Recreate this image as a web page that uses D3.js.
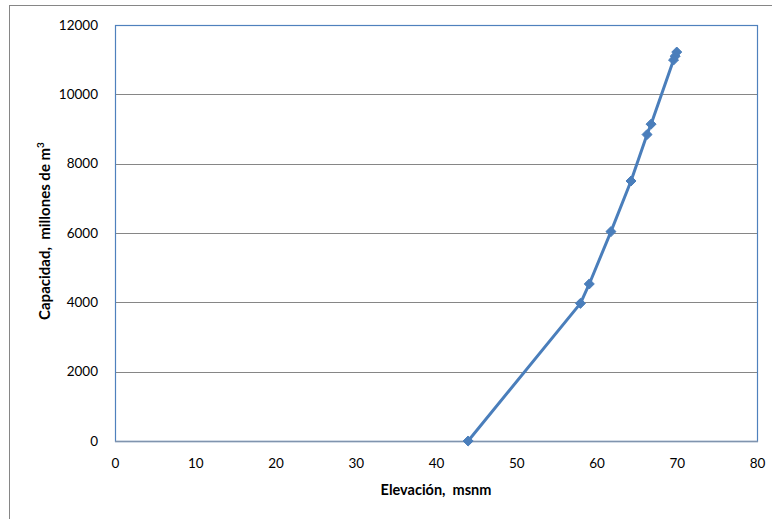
<!DOCTYPE html>
<html><head><meta charset="utf-8">
<script src="https://cdn.jsdelivr.net/npm/d3@7"></script>
<style>body{margin:0;background:#fff;} svg{display:block;} .t{white-space:pre;}</style>
</head><body>
<svg id="c" width="772" height="519"></svg>
<script>
const elevation = [44, 58, 59.1, 61.8, 64.3, 66.3, 66.8, 69.6, 69.8, 70];
const capacity  = [0, 3970, 4530, 6040, 7500, 8840, 9140, 10990, 11100, 11220];
const xTicks = [0, 10, 20, 30, 40, 50, 60, 70, 80];
const yTicks = [0, 2000, 4000, 6000, 8000, 10000, 12000];
const xTitle = "Elevación,  msnm";
const yTitle = "Capacidad,  millones de m";

const svg = d3.select("#c");
const font = "Lato, 'Open Sans', sans-serif";
const m = {l:115, r:757, t:25, b:441};
const x = d3.scaleLinear().domain([0,80]).range([m.l, m.r]);
const y = d3.scaleLinear().domain([0,12000]).range([m.b, m.t]);

// outer border
svg.append("rect").attr("x",9.5).attr("y",5.5).attr("width",800).attr("height",520)
  .attr("fill","none").attr("stroke","#868686").attr("stroke-width",1);

// gridlines
svg.append("g").selectAll("line").data(yTicks.filter(d=>d>0 && d<12000)).join("line")
  .attr("x1",m.l).attr("x2",m.r).attr("y1",d=>Math.round(y(d))+0.5).attr("y2",d=>Math.round(y(d))+0.5)
  .attr("stroke","#868686").attr("stroke-width",1);

// plot border
svg.append("rect").attr("x",m.l+0.5).attr("y",m.t+0.5).attr("width",m.r-m.l).attr("height",m.b-m.t)
  .attr("fill","none").attr("stroke","#4F81BD").attr("stroke-width",1.2);
// bottom axis line
svg.append("line").attr("x1",m.l).attr("x2",m.r+1).attr("y1",m.b+0.5).attr("y2",m.b+0.5)
  .attr("stroke","#8094AE").attr("stroke-width",1.5);

// axes labels via d3 axes
const ax = svg.append("g").attr("transform",`translate(0,${m.b})`)
  .call(d3.axisBottom(x).tickValues(xTicks).tickSize(0).tickPadding(17).tickFormat(d3.format("d")));
ax.select(".domain").remove();
ax.selectAll("text").attr("font-family",font).attr("font-size","13.5px").attr("fill","#000");
const ay = svg.append("g").attr("transform",`translate(${m.l},0)`)
  .call(d3.axisLeft(y).tickValues(yTicks).tickSize(0).tickPadding(17).tickFormat(d3.format("d")));
ay.select(".domain").remove();
ay.selectAll("text").attr("font-family",font).attr("font-size","13.5px").attr("fill","#000");

// titles
svg.append("text").attr("class","t").attr("x",436).attr("y",495).attr("text-anchor","middle")
  .attr("font-family",font).attr("font-size","14.5px").attr("font-weight","bold").text(xTitle);
const yt = svg.append("text").attr("class","t").attr("transform","translate(50,231) rotate(-90)").attr("text-anchor","middle")
  .attr("font-family",font).attr("font-size","15px").attr("font-weight","bold");
yt.append("tspan").text(yTitle);
yt.append("tspan").attr("dy","-6").attr("font-size","10px").text("3");

// line
const pts = elevation.map((e,i)=>[e,capacity[i]]);
svg.append("path").datum(pts)
  .attr("d", d3.line().x(d=>x(d[0])).y(d=>y(d[1])))
  .attr("fill","none").attr("stroke","#4A7EBB").attr("stroke-width",3).attr("stroke-linejoin","round");
// markers
svg.append("g").selectAll("path").data(pts).join("path")
  .attr("transform",d=>`translate(${x(d[0])},${y(d[1])})`)
  .attr("d", d3.symbol().type(d3.symbolDiamond2).size(64))
  .attr("fill","#4A7EBB").attr("stroke","#4A7EBB").attr("stroke-width",1);
</script>
</body></html>
